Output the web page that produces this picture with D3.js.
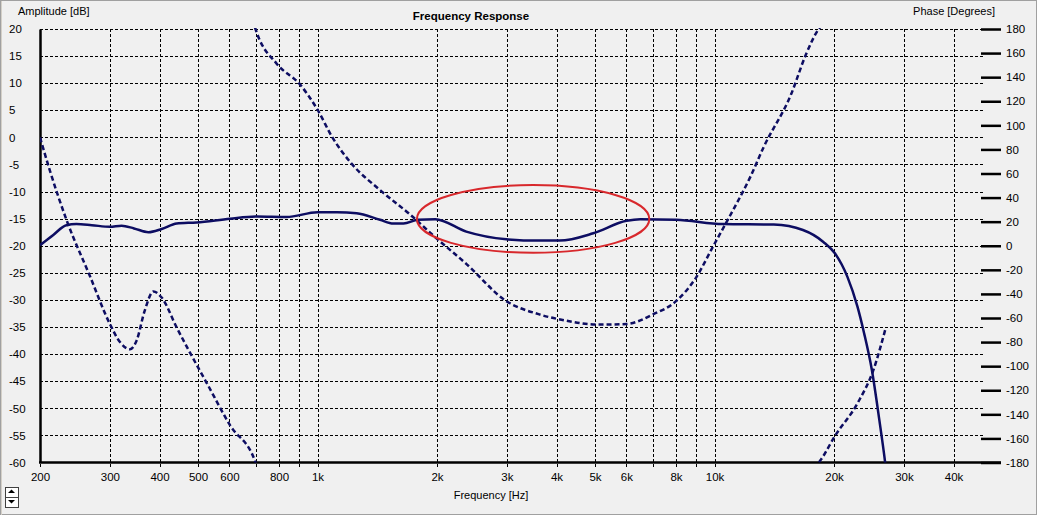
<!DOCTYPE html>
<html>
<head>
<meta charset="utf-8">
<script src="https://cdn.jsdelivr.net/npm/d3@7"></script>
<style>
  html, body { margin: 0; padding: 0; background: #f0f0f0; }
  svg { display: block; font-family: "Liberation Sans", Arial, sans-serif; }
  .lbl { font-size: 11px; fill: #000; }
</style>
</head>
<body>
<div id="chart"></div>
<script>
// amplitude response (solid line, left axis)
const ampFreq = [200, 216, 233, 247, 270, 300, 321, 345, 375, 405, 442, 496, 602, 703, 836,
  1000, 1120, 1255, 1437, 1552, 1646, 1790, 1980, 2370, 2990, 3620, 4070, 4950, 6000, 6500,
  8000, 10500, 14100, 16700, 18800, 20100, 21600, 22900, 23800, 24900, 26000, 26900, 27200];
const ampDb = [-19.9, -18.0, -16.2, -16.0, -16.2, -16.5, -16.3, -16.8, -17.5, -16.9, -15.9, -15.7, -15.0, -14.6, -14.7,
  -13.8, -13.8, -14.0, -15.2, -15.9, -15.9, -15.2, -15.1, -17.4, -18.8, -19.05, -19.05, -17.7, -15.4, -15.1,
  -15.2, -16.0, -16.1, -17.1, -19.3, -21.4, -25.7, -31.2, -36.1, -42.9, -52.1, -60, -63];

// phase response (dashed line, right axis), unwrapped degrees
const phaseFreq = [200, 212, 233.5, 267, 300, 318, 337, 350, 367, 386, 405, 442, 506, 526, 602, 698, 703,
  790, 903, 1000, 1090, 1220, 1440, 1710, 1980, 2370, 2990, 3620, 4200, 5100, 6000, 7000, 8000,
  9000, 9900, 10900, 12300, 13300, 15600, 17000, 18300, 18500, 20100, 22900, 25200, 26900];
const phaseDeg = [90, 62, 21, -25, -65, -80, -86, -79, -54, -38, -43, -68, -104, -114, -149, -180, -183,
  -209, -226, -247, -270, -292, -314, -334, -353, -375, -406, -417, -422, -425.5, -425, -417, -406,
  -386, -361, -336, -303, -278, -234, -201, -180, -178, -158, -131, -102, -70];

// axis ticks
const gridFreqs = [300, 400, 500, 600, 700, 800, 900, 1000, 2000, 3000, 4000, 5000, 6000, 7000, 8000, 9000,
  10000, 20000, 30000, 40000];
const labelFreqs = [200, 300, 400, 500, 600, 800, 1000, 2000, 3000, 4000, 5000, 6000, 8000, 10000, 20000, 30000, 40000];
const dbTicks = d3.range(-60, 21, 5);
const degTicks = d3.range(-180, 181, 20);

// red highlight ellipse (freq / dB extents)
const markFreq = [1780, 6850];
const markDb = [-8.8, -21.3];

const W = 1037, H = 515;
const plot = {left: 40, right: 985, top: 29, bottom: 462.5};
const ink = "#0d0d62";

const svg = d3.select("#chart").append("svg")
  .attr("width", W).attr("height", H);

// window frame
svg.append("rect").attr("x", 0.5).attr("y", 0.5).attr("width", W - 1).attr("height", H - 1)
  .attr("fill", "#f0f0f0").attr("stroke", "#a0a0a0");
svg.append("line").attr("x1", 1.5).attr("x2", 1.5).attr("y1", 1).attr("y2", H)
  .attr("stroke", "#d4d0c8");

const x = d3.scaleLog().domain([200, 48000]).range([plot.left, plot.right]);
const yA = d3.scaleLinear().domain([-60, 20]).range([plot.bottom, plot.top]);
const yP = d3.scaleLinear().domain([-180, 180]).range([plot.bottom, plot.top]);

function fmtF(f) { return f >= 1000 ? (f / 1000) + "k" : String(f); }
function plain(v) { return String(v); }   // keep the ascii hyphen like the original

// grid
const grid = svg.append("g").attr("stroke", "#000").attr("stroke-width", 1)
  .attr("stroke-dasharray", "3,2").attr("shape-rendering", "crispEdges");
grid.selectAll(".h").data(dbTicks.filter(d => d > -60)).enter().append("line")
  .attr("x1", plot.left).attr("x2", plot.right)
  .attr("y1", d => Math.round(yA(d)) + 0.5).attr("y2", d => Math.round(yA(d)) + 0.5);
grid.selectAll(".v").data([200].concat(gridFreqs)).enter().append("line")
  .attr("x1", d => Math.round(x(d)) + 0.5).attr("x2", d => Math.round(x(d)) + 0.5)
  .attr("y1", plot.top).attr("y2", plot.bottom + 6);

// left axis
const left = svg.append("g").attr("transform", `translate(${plot.left},0)`)
  .call(d3.axisLeft(yA).tickValues(dbTicks).tickSize(0).tickFormat(plain));
left.select(".domain").attr("stroke", "#000").attr("stroke-width", 2.5);
left.selectAll("text").attr("class", "lbl").attr("text-anchor", "start").attr("x", 9 - plot.left)
  .style("font-size", "11.5px").style("font-family", "Liberation Sans, Arial, sans-serif");

// right axis
const right = svg.append("g").attr("transform", `translate(${plot.right - 4},0)`)
  .call(d3.axisRight(yP).tickValues(degTicks).tickSize(20).tickPadding(5).tickFormat(plain));
right.select(".domain").remove();
right.selectAll("line").attr("stroke", "#000").attr("stroke-width", 2.5);
right.selectAll("text").style("font-size", "11.5px").style("font-family", "Liberation Sans, Arial, sans-serif");

// bottom axis
svg.append("line").attr("x1", plot.left - 1).attr("x2", 1001)
  .attr("y1", plot.bottom).attr("y2", plot.bottom)
  .attr("stroke", "#000").attr("stroke-width", 2.5);
const bottom = svg.append("g").attr("transform", `translate(0,${plot.bottom})`)
  .call(d3.axisBottom(x).tickValues(labelFreqs).tickSize(0).tickPadding(10).tickFormat(fmtF));
bottom.select(".domain").remove();
bottom.selectAll("text").style("font-size", "11.5px").style("font-family", "Liberation Sans, Arial, sans-serif");

// titles
svg.append("text").attr("x", 471).attr("y", 20).attr("text-anchor", "middle")
  .style("font-size", "11.5px").style("font-weight", "bold").text("Frequency Response");
svg.append("text").attr("class", "lbl").attr("x", 18).attr("y", 15).text("Amplitude [dB]");
svg.append("text").attr("class", "lbl").attr("x", 995).attr("y", 15).attr("text-anchor", "end").text("Phase [Degrees]");
svg.append("text").attr("class", "lbl").attr("x", 491).attr("y", 499).attr("text-anchor", "middle").text("Frequency [Hz]");

// curves
svg.append("clipPath").attr("id", "clip").append("rect")
  .attr("x", plot.left).attr("y", plot.top - 1).attr("width", plot.right - plot.left)
  .attr("height", plot.bottom - plot.top + 1);
const curves = svg.append("g").attr("clip-path", "url(#clip)");

const ampLine = d3.line().x(d => x(d[0])).y(d => yA(d[1])).curve(d3.curveMonotoneX);
curves.append("path").datum(d3.zip(ampFreq, ampDb))
  .attr("d", ampLine).attr("fill", "none").attr("stroke", ink).attr("stroke-width", 2.5);

// phase is wrapped into [-180, 180]: draw the unwrapped trace shifted by 0 and +360, clipped
[0, 360].forEach(off => {
  const phLine = d3.line().x(d => x(d[0])).y(d => yP(d[1] + off)).curve(d3.curveMonotoneX);
  curves.append("path").datum(d3.zip(phaseFreq, phaseDeg))
    .attr("d", phLine).attr("fill", "none").attr("stroke", ink).attr("stroke-width", 2.5)
    .attr("stroke-dasharray", "5,3");
});

// highlight ellipse
const cx = (x(markFreq[0]) + x(markFreq[1])) / 2, cy = (yA(markDb[0]) + yA(markDb[1])) / 2;
svg.append("ellipse").attr("cx", cx).attr("cy", cy)
  .attr("rx", (x(markFreq[1]) - x(markFreq[0])) / 2).attr("ry", (yA(markDb[1]) - yA(markDb[0])) / 2)
  .attr("fill", "none").attr("stroke", "#d8282c").attr("stroke-width", 2);

// little up / down scroll buttons
const btn = svg.append("g");
[488, 498].forEach(top => {
  btn.append("rect").attr("x", 5.5).attr("y", top - 0.5).attr("width", 13).attr("height", 10)
    .attr("fill", "#fff").attr("stroke", "#404040");
});
btn.append("path").attr("d", "M8,493 L15,493 L11.5,489.5 Z").attr("fill", "#000");
btn.append("path").attr("d", "M8,500 L15,500 L11.5,503.5 Z").attr("fill", "#000");
</script>
</body>
</html>
